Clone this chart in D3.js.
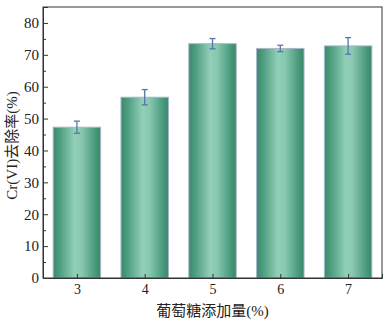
<!DOCTYPE html>
<html lang="zh">
<head>
<meta charset="UTF-8">
<title>Cr(VI) removal</title>
<script src="https://d3js.org/d3.v7.min.js"></script>
<style>
  body { margin: 0; background: #fff; }
  text { font-family: "Liberation Serif", "Noto Sans CJK SC", serif; fill: #222; }
</style>
</head>
<body>
<svg id="chart" width="387" height="324"></svg>
<script>
// data
const glucose = [3, 4, 5, 6, 7];
const removal = [47.3, 56.7, 73.5, 72.0, 72.8];
const errors = [1.9, 2.4, 1.6, 1.0, 2.6];
const yTicks = [0, 10, 20, 30, 40, 50, 60, 70, 80];

const svg = d3.select('#chart');
const margin = { top: 7, right: 5, bottom: 46, left: 43 };
const width = 387 - margin.left - margin.right;
const height = 324 - margin.top - margin.bottom;

const x = d3.scaleLinear().domain([2.5, 7.5]).range([0, width]);
const y = d3.scaleLinear().domain([0, 85]).range([height, 0]);
const barW = (x(4) - x(3)) * 0.7;

// horizontal gradient for the bars
const grad = svg.append('defs').append('linearGradient')
    .attr('id', 'barGrad').attr('x1', '0%').attr('x2', '100%');
grad.append('stop').attr('offset', '0%').attr('stop-color', '#3d8a6c');
grad.append('stop').attr('offset', '12%').attr('stop-color', '#4a9a7c');
grad.append('stop').attr('offset', '45%').attr('stop-color', '#91cfb8');
grad.append('stop').attr('offset', '60%').attr('stop-color', '#88c8b0');
grad.append('stop').attr('offset', '88%').attr('stop-color', '#4a9a7c');
grad.append('stop').attr('offset', '100%').attr('stop-color', '#3a876a');

const g = svg.append('g').attr('transform', `translate(${margin.left},${margin.top})`);

// bars
g.selectAll('rect.bar')
    .data(glucose)
    .enter().append('rect')
    .attr('class', 'bar')
    .attr('x', d => x(d) - barW / 2)
    .attr('y', (d, i) => y(removal[i]))
    .attr('width', barW)
    .attr('height', (d, i) => y(0) - y(removal[i]))
    .attr('fill', 'url(#barGrad)')
    .attr('stroke', '#a8b6cc')
    .attr('stroke-width', 1);

// error bars
const eb = g.selectAll('g.err').data(glucose).enter().append('g').attr('class', 'err')
    .attr('stroke', '#5a74a8').attr('stroke-width', 1.3);
eb.append('line')
    .attr('x1', d => x(d)).attr('x2', d => x(d))
    .attr('y1', (d, i) => y(removal[i] - errors[i]))
    .attr('y2', (d, i) => y(removal[i] + errors[i]));
eb.append('line')
    .attr('x1', d => x(d) - 3).attr('x2', d => x(d) + 3)
    .attr('y1', (d, i) => y(removal[i] + errors[i]))
    .attr('y2', (d, i) => y(removal[i] + errors[i]));
eb.append('line')
    .attr('x1', d => x(d) - 3).attr('x2', d => x(d) + 3)
    .attr('y1', (d, i) => y(removal[i] - errors[i]))
    .attr('y2', (d, i) => y(removal[i] - errors[i]));

// frame
g.append('rect')
    .attr('width', width).attr('height', height)
    .attr('fill', 'none').attr('stroke', '#333').attr('stroke-width', 1);

// y axis, ticks inward
const yAxis = g.append('g')
    .call(d3.axisLeft(y).tickValues(yTicks).tickSize(-5).tickPadding(4));
yAxis.select('.domain').attr('stroke', '#333');
yAxis.selectAll('line').attr('stroke', '#333');
yAxis.selectAll('text').attr('font-size', 15).style('font-family', '"Liberation Serif", serif');
// minor ticks
g.append('g')
    .call(d3.axisLeft(y).tickValues(d3.range(5, 85, 10)).tickSize(-3).tickFormat(''))
    .call(a => a.select('.domain').remove())
    .selectAll('line').attr('stroke', '#333');

// x axis
const xAxis = g.append('g')
    .attr('transform', `translate(0,${height})`)
    .call(d3.axisBottom(x).tickValues(glucose).tickFormat(d3.format('d')).tickSize(-4).tickPadding(6));
xAxis.select('.domain').attr('stroke', '#333');
xAxis.selectAll('line').attr('stroke', '#333');
xAxis.selectAll('text').attr('font-size', 14).style('font-family', '"Liberation Serif", serif');

// axis titles
svg.append('text')
    .attr('transform', `translate(17,${margin.top + height / 2 + 3}) rotate(-90)`)
    .attr('text-anchor', 'middle')
    .attr('font-size', 15)
    .text('Cr(VI)去除率(%)');

svg.append('text')
    .attr('x', margin.left + width / 2)
    .attr('y', 316)
    .attr('text-anchor', 'middle')
    .attr('font-size', 15)
    .text('葡萄糖添加量(%)');
</script>
</body>
</html>
